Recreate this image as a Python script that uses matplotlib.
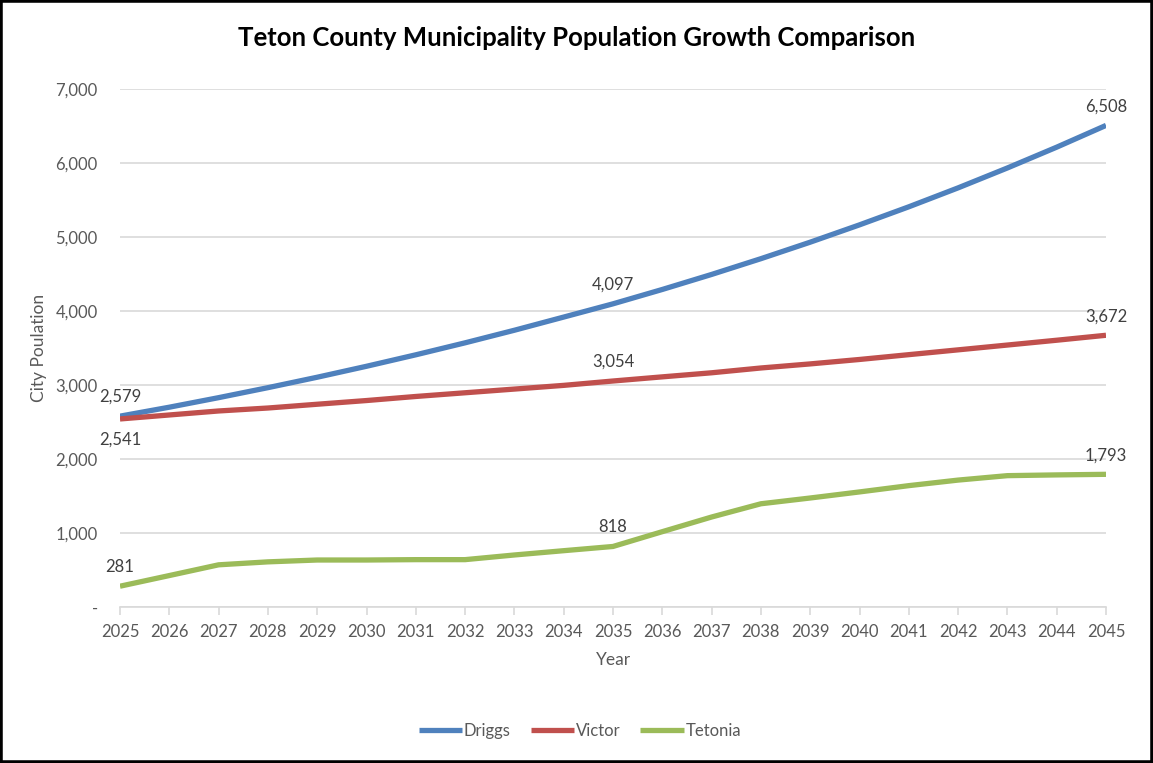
import matplotlib
matplotlib.use("Agg")
import matplotlib.pyplot as plt
from matplotlib.patches import Rectangle
from matplotlib.ticker import FuncFormatter

years = list(range(2025, 2046))
driggs = [2579, 2700, 2829, 2964, 3105, 3253, 3408, 3570, 3740, 3918, 4097,
          4291, 4494, 4707, 4930, 5164, 5408, 5664, 5933, 6214, 6508]
victor = [2541, 2595, 2649, 2689, 2740, 2790, 2845, 2895, 2945, 2995, 3054,
          3110, 3165, 3230, 3285, 3345, 3410, 3475, 3540, 3605, 3672]
tetonia = [281, 425, 570, 610, 635, 635, 640, 640, 703, 761, 818,
           1018, 1216, 1395, 1473, 1555, 1640, 1715, 1775, 1785, 1793]
series_names = ["Driggs", "Victor", "Tetonia"]
colors = ["#4F81BD", "#C0504D", "#9BBB59"]
labeled_years = [2025, 2035, 2045]

plt.rcParams['font.family'] = ['Lato', 'DejaVu Sans']

W, H = 1153, 763
fig = plt.figure(figsize=(W / 100, H / 100), dpi=100)
ax = fig.add_axes([120 / W, 1 - 607 / H, (1106 - 120) / W, (607 - 89) / H])

grey = "#595959"
for name, vals, c in zip(series_names, [driggs, victor, tetonia], colors):
    ax.plot(years, vals, color=c, lw=3.8, solid_capstyle='butt', label=name, zorder=3)

# data labels
for name, vals in zip(series_names, [driggs, victor, tetonia]):
    for yr in labeled_years:
        v = vals[years.index(yr)]
        if name == "Victor" and yr == 2025:
            ax.annotate(f"{v:,}", (yr, v), xytext=(0, -9), textcoords='offset points',
                        ha='center', va='top', fontsize=12, color="#404040")
        else:
            ax.annotate(f"{v:,}", (yr, v), xytext=(0, 8), textcoords='offset points',
                        ha='center', va='bottom', fontsize=12, color="#404040")

ax.set_xlim(2025, 2045)
ax.set_ylim(0, 7000)
ax.set_xticks(years)
ax.set_yticks(range(0, 7001, 1000))
ax.yaxis.set_major_formatter(FuncFormatter(lambda v, p: "-" if v == 0 else f"{int(v):,}"))
ax.grid(axis='y', color="#D9D9D9", lw=1.2, zorder=0)
for s in ['top', 'right', 'left']:
    ax.spines[s].set_visible(False)
ax.spines['bottom'].set_color("#D9D9D9")
ax.spines['bottom'].set_linewidth(1.2)
ax.tick_params(axis='x', colors=grey, labelsize=12, length=6, width=1.2,
               direction='out', pad=6, color="#D9D9D9")
ax.tick_params(axis='x', labelcolor=grey)
ax.tick_params(axis='y', length=0, labelsize=12, labelcolor=grey, pad=16)

ax.set_xlabel("Year", fontsize=12.5, color=grey, labelpad=9)
ax.set_ylabel("City Poulation", fontsize=12.5, color=grey, labelpad=6)

fig.text(577 / W, 1 - 38 / H, "Teton County Municipality Population Growth Comparison",
         ha='center', va='center', fontsize=18.5, fontweight='bold', color='black')

leg = fig.legend(loc='center', bbox_to_anchor=(580 / W, 1 - 731 / H), ncol=3,
                 frameon=False, fontsize=12, handlelength=2.6, handletextpad=0.1,
                 columnspacing=1.2)
for t in leg.get_texts():
    t.set_color(grey)

fig.add_artist(Rectangle((0, 0), 1, 1, transform=fig.transFigure, fill=False,
                         edgecolor='black', lw=4, clip_on=False))

fig.savefig("out.png", dpi=100)
